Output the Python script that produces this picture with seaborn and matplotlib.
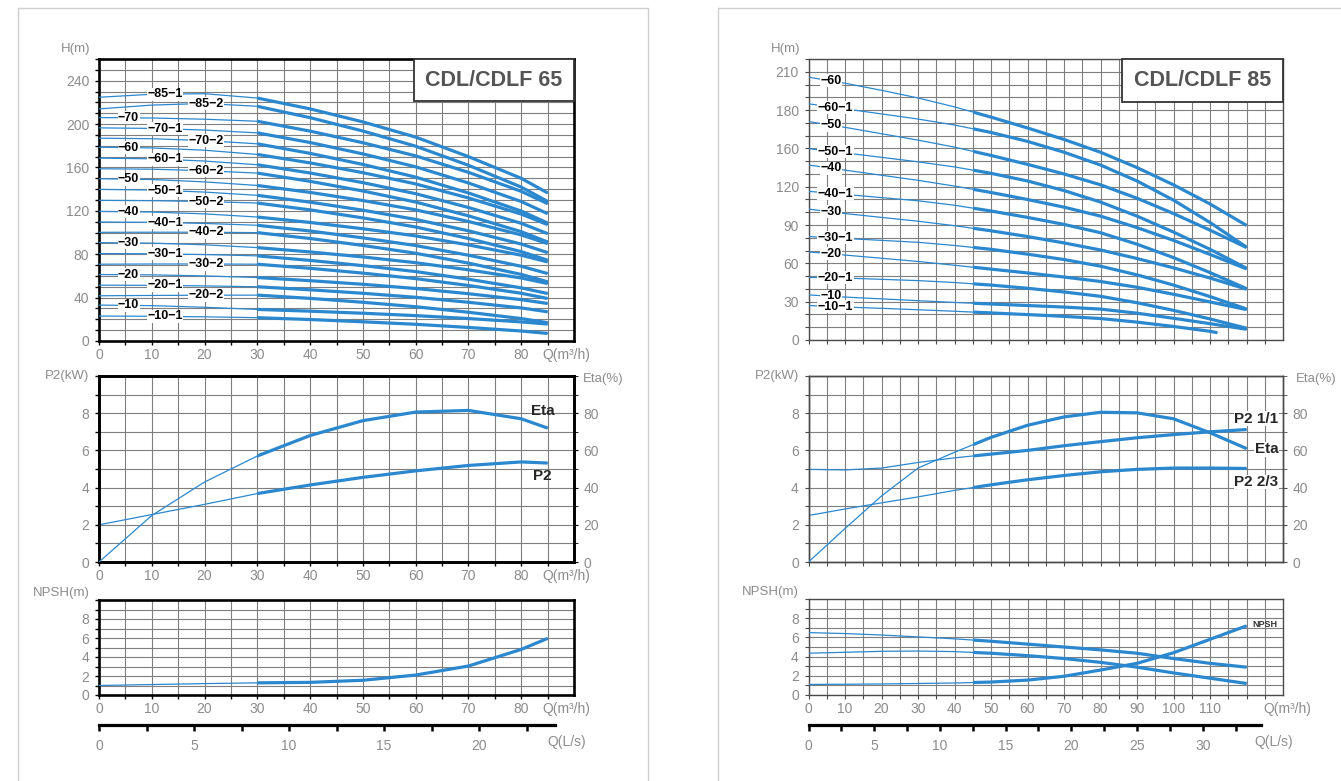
import numpy as np
import matplotlib
matplotlib.use("Agg")
import matplotlib.pyplot as plt
from matplotlib.patches import Rectangle
from matplotlib.lines import Line2D
import seaborn as sns

sns.set_style("white")
plt.rcParams["font.family"] = ["Liberation Sans", "DejaVu Sans"]

# ---------------- CDL/CDLF 65 : Q-H curves ----------------
Q65 = [0, 10, 20, 30, 40, 50, 60, 70, 80, 85]
H65_85_1 = [224.7, 227.5, 228.0, 224.0, 214.0, 202.0, 188.0, 170.0, 150.0, 136.5]
H65_85_2 = [214.0, 217.5, 219.0, 216.4, 205.9, 193.6, 179.6, 162.0, 141.9, 128.7]
H65_70 = [206.0, 205.6, 204.5, 202.6, 193.5, 182.8, 170.7, 155.5, 138.0, 126.6]
H65_70_1 = [196.5, 196.0, 194.5, 191.9, 183.0, 172.5, 160.6, 145.7, 128.6, 117.4]
H65_70_2 = [187.0, 186.5, 184.8, 181.8, 173.0, 162.8, 151.1, 136.5, 119.8, 108.8]
H65_60 = [178.7, 178.0, 175.9, 172.0, 164.2, 155.2, 144.8, 131.9, 117.0, 107.3]
H65_60_1 = [168.6, 168.0, 165.9, 162.5, 154.9, 146.0, 135.8, 123.1, 108.5, 99.0]
H65_60_2 = [158.8, 158.4, 157.0, 154.8, 147.2, 138.3, 128.1, 115.4, 100.8, 91.3]
H65_50 = [149.6, 148.9, 146.7, 143.4, 137.0, 129.5, 120.9, 110.2, 97.8, 89.8]
H65_50_1 = [139.8, 139.2, 137.3, 134.3, 128.0, 120.6, 112.1, 101.6, 89.4, 81.5]
H65_50_2 = [129.7, 129.4, 128.6, 127.2, 120.9, 113.5, 105.1, 94.5, 82.4, 74.5]
H65_40 = [119.5, 118.9, 117.2, 114.3, 109.3, 103.5, 96.9, 88.6, 79.1, 72.9]
H65_40_1 = [109.7, 109.4, 108.4, 106.7, 101.4, 95.1, 88.0, 79.1, 68.9, 62.2]
H65_40_2 = [100.2, 100.3, 100.3, 99.9, 94.5, 88.1, 80.9, 71.8, 61.4, 54.6]
H65_30 = [90.7, 90.2, 88.7, 86.1, 82.1, 77.5, 72.2, 65.6, 58.1, 53.0]
H65_30_1 = [80.6, 80.4, 79.7, 78.5, 74.3, 69.5, 64.0, 57.0, 49.0, 43.8]
H65_30_2 = [70.8, 71.0, 71.0, 70.8, 67.0, 62.6, 57.5, 51.2, 44.0, 39.2]
H65_20 = [61.3, 61.0, 60.0, 58.5, 55.6, 52.3, 48.4, 43.6, 38.1, 34.6]
H65_20_1 = [51.5, 51.3, 50.8, 50.0, 47.2, 44.0, 40.3, 35.7, 30.5, 26.9]
H65_20_2 = [41.7, 42.0, 42.2, 42.3, 39.3, 35.7, 31.6, 26.5, 20.7, 16.9]
H65_10 = [33.1, 32.6, 31.1, 29.1, 27.5, 25.6, 23.4, 20.7, 17.6, 15.6]
H65_10_1 = [23.0, 22.8, 22.3, 21.5, 19.8, 17.7, 15.4, 12.5, 9.2, 7.0]
NAMES65 = ["85-1", "85-2", "70", "70-1", "70-2", "60", "60-1", "60-2", "50", "50-1",
           "50-2", "40", "40-1", "40-2", "30", "30-1", "30-2", "20", "20-1", "20-2",
           "10", "10-1"]
# ---------------- CDL/CDLF 65 : P2 / Eta / NPSH ----------------
P2_65 = [2.0, 2.55, 3.1, 3.68, 4.14, 4.55, 4.9, 5.19, 5.38, 5.32]
ETA_65 = [0, 25, 43, 57, 68, 76, 80.6, 81.5, 77, 72]
NPSH_65 = [1.0, 1.1, 1.2, 1.28, 1.33, 1.55, 2.1, 3.05, 4.8, 5.96]

# ---------------- CDL/CDLF 85 : Q-H curves ----------------
Q85 = [0, 10, 20, 30, 40, 50, 60, 70, 80, 90, 100, 110, 120]
Q85_SHORT = [0, 10, 20, 30, 40, 50, 60, 70, 80, 90, 100, 110, 112]
H85_60 = [205.8, 201.0, 195.5, 189.5, 182.5, 174.5, 166.0, 157.0, 147.0, 135.0, 121.5, 106.5, 89.7]
H85_60_1 = [184.9, 181.0, 177.0, 173.0, 168.3, 162.5, 155.5, 147.0, 137.0, 124.5, 109.5, 92.0, 72.7]
H85_50 = [171.0, 166.5, 161.5, 156.5, 151.0, 144.5, 137.5, 130.0, 121.5, 111.0, 99.0, 86.0, 72.4]
H85_50_1 = [149.8, 146.5, 143.0, 139.5, 135.5, 130.5, 124.5, 117.0, 108.0, 97.0, 84.5, 71.0, 56.2]
H85_40 = [137.0, 133.0, 129.0, 125.0, 120.5, 115.5, 110.0, 104.0, 97.0, 88.0, 78.0, 67.0, 55.7]
H85_40_1 = [116.4, 114.0, 111.5, 109.0, 105.5, 101.0, 96.0, 90.5, 84.0, 75.0, 64.5, 52.8, 40.2]
H85_30 = [102.5, 99.0, 96.0, 93.0, 89.5, 85.5, 81.0, 76.0, 70.5, 63.8, 56.5, 48.5, 39.8]
H85_30_1 = [81.0, 79.5, 78.0, 76.5, 74.0, 71.0, 67.2, 63.0, 57.8, 51.0, 43.0, 34.0, 24.3]
H85_20 = [69.0, 66.5, 64.0, 61.5, 58.5, 55.5, 52.5, 49.3, 45.8, 41.3, 35.8, 29.8, 23.8]
H85_20_1 = [49.0, 48.5, 47.5, 46.5, 45.0, 43.0, 40.5, 37.6, 34.2, 29.2, 23.2, 16.5, 9.2]
H85_10 = [35.3, 33.6, 32.2, 30.8, 29.4, 28.2, 27.0, 25.8, 24.2, 21.0, 17.0, 12.8, 8.4]
H85_10_1 = [27.0, 25.8, 24.8, 23.7, 22.5, 21.2, 19.9, 18.5, 16.8, 14.0, 10.6, 6.8, 5.7]
NAMES85 = ["60", "60-1", "50", "50-1", "40", "40-1", "30", "30-1", "20", "20-1", "10", "10-1"]
# ---------------- CDL/CDLF 85 : P2 / Eta / NPSH ----------------
P2_85_FULL = [4.98, 4.95, 5.05, 5.35, 5.6, 5.8, 6.0, 6.25, 6.47, 6.68, 6.85, 7.0, 7.12]
P2_85_TWO3 = [2.5, 2.85, 3.18, 3.5, 3.85, 4.15, 4.42, 4.65, 4.85, 4.98, 5.05, 5.05, 5.03]
ETA_85 = [0, 18, 35.5, 50.5, 59.0, 67.0, 73.5, 78, 80.5, 80.2, 77, 69.5, 61]
NPSH_85_A = [6.5, 6.4, 6.25, 6.05, 5.85, 5.6, 5.3, 5.0, 4.7, 4.35, 3.8, 3.3, 2.9]
NPSH_85_B = [4.35, 4.45, 4.55, 4.58, 4.52, 4.35, 4.1, 3.8, 3.4, 2.9, 2.3, 1.75, 1.2]
NPSH_85_C = [1.1, 1.12, 1.15, 1.2, 1.25, 1.35, 1.55, 1.95, 2.6, 3.3, 4.4, 5.8, 7.2]

TICKS_H85 = ["0", "30", "60", "90", "120", "160", "180", "210"]

BLUE = "#2b88cf"
GRID = "#7f7f7f"
TXT = "#8c8c8c"
W, H = 1341, 781
fig = plt.figure(figsize=(W / 100, H / 100), dpi=100)


def rect(l, t, r, b):
    return [l / W, 1 - b / H, (r - l) / W, (b - t) / H]


def frame(ax, xlim, ylim, xmaj, xmin, xlab, ymaj, ymin, ylab, heavy):
    ax.set_xlim(xlim)
    ax.set_ylim(ylim)
    ax.set_xticks(xmaj)
    ax.set_xticks(xmin, minor=True)
    ax.set_xticklabels(xlab)
    ax.set_yticks(ymaj)
    ax.set_yticks(ymin, minor=True)
    ax.set_yticklabels(ylab)
    ax.set_xlabel("")
    ax.set_ylabel("")
    ax.set_axisbelow(True)
    ax.grid(True, which="both", color=GRID, linewidth=0.8)
    sc = "black" if heavy else "#4a4a4a"
    for s in ax.spines.values():
        s.set_visible(True)
        s.set_color(sc)
        s.set_linewidth(1.9 if heavy else 1.0)
    ax.tick_params(which="both", direction="out", length=3, width=1.0 if heavy else 0.8,
                   color=sc, labelcolor=TXT, labelsize=10)
    ax.tick_params(axis="x", which="both", pad=2, bottom=True, top=False)
    ax.tick_params(axis="y", which="both", pad=4, left=True, right=False)


def curve(ax, q, h, split, thin=0.9, thick=2.3):
    sns.lineplot(x=q, y=h, ax=ax, color=BLUE, linewidth=thin, estimator=None,
                 sort=False, legend=False, zorder=3)
    sns.lineplot(x=q, y=h, ax=ax, color=BLUE, linewidth=thick, estimator=None,
                 sort=False, legend=False, zorder=3)
    ln = ax.lines[-1]
    ln.set_solid_capstyle("butt")
    ln.set_clip_path(Rectangle((split, -1000), 10000, 20000, transform=ax.transData))


def corner_label(ax, text, where, dx=0):
    kw = dict(fontsize=9.5, color=TXT, textcoords="offset points")
    if where == "tl":
        ax.annotate(text, xy=(0, 1), xycoords="axes fraction", xytext=(-6, 3),
                    ha="right", va="bottom", **kw)
    elif where == "ml":
        ax.annotate(text, xy=(0, 1), xycoords="axes fraction", xytext=(-7, 0),
                    ha="right", va="center", **kw)
    elif where == "mr":
        ax.annotate(text, xy=(1, 1), xycoords="axes fraction", xytext=(dx, -2),
                    ha="left", va="center", **kw)


def q_label(ax, x):
    ax.annotate("Q(m³/h)", xy=(x, 0), xycoords=("data", "axes fraction"),
                xytext=(0, -5), textcoords="offset points", ha="center", va="top",
                fontsize=10, color=TXT)


def title_box(ax, x0, y0, text):
    ax.add_patch(Rectangle((x0, y0), 1 - x0, 1 - y0, transform=ax.transAxes,
                           facecolor="white", edgecolor="#333333", linewidth=1.3,
                           zorder=6, clip_on=False))
    ax.text((x0 + 1) / 2, (y0 + 1) / 2, text, transform=ax.transAxes, ha="center",
            va="center", fontsize=15.5, fontweight="bold", color="#555555", zorder=7)


def curve_label(ax, q, h, name, x_left, x_center):
    y = float(np.interp(x_center, q, h))
    ax.text(x_left, y, "−" + name.replace("-", "−"), ha="left", va="center",
            fontsize=9, fontweight="bold", color="black", zorder=5,
            bbox=dict(facecolor="white", edgecolor="none", pad=0.4))


def ls_axis(l, r, ypx, xmax, end, major, minor, lab_x):
    a = fig.add_axes(rect(l, ypx - 1, r, ypx))
    a.set_xlim(0, xmax)
    a.set_ylim(0, 1)
    a.patch.set_visible(False)
    for k in ("left", "right", "top"):
        a.spines[k].set_visible(False)
    sp = a.spines["bottom"]
    sp.set_color("black")
    sp.set_linewidth(2.3)
    sp.set_bounds(0, end)
    a.set_yticks([])
    a.set_xticks(major)
    a.set_xticks(minor, minor=True)
    a.set_xticklabels([f"{v:g}" for v in major])
    a.tick_params(axis="x", which="both", direction="out", length=4, width=1.8,
                  color="black", labelcolor=TXT, labelsize=10, pad=6,
                  bottom=True, top=False, labelbottom=True)
    a.annotate("Q(L/s)", xy=(lab_x, 0), xycoords=("data", "axes fraction"),
               xytext=(0, -7), textcoords="offset points", ha="center", va="top",
               fontsize=10, color=TXT)


# ================= LEFT PANEL : CDL/CDLF 65 =================
xmaj65 = list(range(0, 81, 10))
xmin65 = [5 * i for i in range(1, 18) if (5 * i) % 10 != 0]
xlab65 = [str(v) for v in xmaj65]

axL1 = fig.add_axes(rect(99, 59, 574, 341))
all65 = [H65_85_1, H65_85_2, H65_70, H65_70_1, H65_70_2, H65_60, H65_60_1, H65_60_2,
         H65_50, H65_50_1, H65_50_2, H65_40, H65_40_1, H65_40_2, H65_30, H65_30_1,
         H65_30_2, H65_20, H65_20_1, H65_20_2, H65_10, H65_10_1]
for h in all65:
    curve(axL1, Q65, h, 30)
frame(axL1, (0, 90), (0, 260), xmaj65, xmin65, xlab65,
      list(range(0, 241, 40)), list(range(0, 261, 10)),
      [str(v) for v in range(0, 241, 40)], True)
cols = {"A": (3.6, 5.7), "B": (9.1, 12.4), "C": (16.9, 20.4)}
for name, h in zip(NAMES65, all65):
    if name.endswith("-1"):
        c = "B"
    elif name.endswith("-2"):
        c = "C"
    else:
        c = "A"
    curve_label(axL1, Q65, h, name, *cols[c])
corner_label(axL1, "H(m)", "tl")
q_label(axL1, 88.6)
title_box(axL1, 0.663, 0.851, "CDL/CDLF 65")

axL2 = fig.add_axes(rect(99, 376, 574, 562))
curve(axL2, Q65, P2_65, 30)
frame(axL2, (0, 90), (0, 10), xmaj65, xmin65, xlab65,
      [0, 2, 4, 6, 8], list(range(0, 11)), ["0", "2", "4", "6", "8"], True)
axL2e = axL2.twinx()
curve(axL2e, Q65, ETA_65, 30)
axL2e.set_ylim(0, 100)
axL2e.set_yticks([0, 20, 40, 60, 80])
axL2e.set_yticks(list(range(0, 101, 10)), minor=True)
axL2e.set_ylabel("")
axL2e.grid(False)
for s in axL2e.spines.values():
    s.set_color("black")
    s.set_linewidth(1.9)
axL2e.tick_params(which="both", direction="out", length=3, color="black",
                  labelcolor=TXT, labelsize=10, pad=4, right=True, left=False)
axL2e.text(86.4, 81.2, "Eta", ha="right", va="center", fontsize=11, fontweight="bold",
           zorder=6)
axL2e.text(85.8, 46.5, "P2", ha="right", va="center", fontsize=11, fontweight="bold",
           zorder=6)
corner_label(axL2, "P2(kW)", "ml")
corner_label(axL2e, "Eta(%)", "mr", dx=6.5)
q_label(axL2, 88.6)

axL3 = fig.add_axes(rect(99, 600, 574, 695))
curve(axL3, Q65, NPSH_65, 30)
frame(axL3, (0, 90), (0, 10), xmaj65, xmin65, xlab65,
      [0, 2, 4, 6, 8], list(range(0, 11)), ["0", "2", "4", "6", "8"], True)
axL3.annotate("NPSH(m)", xy=(0, 1), xycoords="axes fraction", xytext=(-7, 5),
              textcoords="offset points", ha="right", va="center", fontsize=9.5, color=TXT)
q_label(axL3, 88.6)
ls_axis(99, 574, 725, 90 / 3.6, 24.0, [0, 5, 10, 15, 20], [2.5, 7.5, 12.5, 17.5, 22.5], 24.6)

# ================= RIGHT PANEL : CDL/CDLF 85 =================
xmaj85 = list(range(0, 111, 10))
xmin85 = [5 * i for i in range(1, 26) if (5 * i) not in xmaj85]
xlab85 = [str(v) for v in xmaj85]

axR1 = fig.add_axes(rect(808.5, 59, 1283, 340))
all85 = [H85_60, H85_60_1, H85_50, H85_50_1, H85_40, H85_40_1, H85_30, H85_30_1,
         H85_20, H85_20_1, H85_10, H85_10_1]
for name, h in zip(NAMES85, all85):
    q = Q85_SHORT if name == "10-1" else Q85
    curve(axR1, q, h, 45)
frame(axR1, (0, 130), (0, 220), xmaj85, xmin85, [""] * len(xmaj85),
      list(range(0, 211, 30)), list(range(0, 221, 10)), TICKS_H85, False)
for name, h in zip(NAMES85, all85):
    q = Q85_SHORT if name == "10-1" else Q85
    if name.endswith("-1"):
        curve_label(axR1, q, h, name, 2.6, 7.4)
    else:
        curve_label(axR1, q, h, name, 3.3, 6.3)
corner_label(axR1, "H(m)", "tl")
title_box(axR1, 0.661, 0.846, "CDL/CDLF 85")

axR2 = fig.add_axes(rect(808.5, 376, 1283, 562))
curve(axR2, Q85, P2_85_FULL, 45)
curve(axR2, Q85, P2_85_TWO3, 45)
frame(axR2, (0, 130), (0, 10), xmaj85, xmin85, [""] * len(xmaj85),
      [0, 2, 4, 6, 8], list(range(0, 11)), ["0", "2", "4", "6", "8"], False)
axR2e = axR2.twinx()
curve(axR2e, Q85, ETA_85, 45)
axR2e.set_ylim(0, 100)
axR2e.set_yticks([0, 20, 40, 60, 80])
axR2e.set_yticks(list(range(0, 101, 10)), minor=True)
axR2e.set_ylabel("")
axR2e.grid(False)
for s in axR2e.spines.values():
    s.set_color("#4a4a4a")
    s.set_linewidth(1.0)
axR2e.tick_params(which="both", direction="out", length=3, color="#4a4a4a",
                  labelcolor=TXT, labelsize=10, pad=4, right=True, left=False)
for txt, yv in (("P2 1/1", 77.0), ("Eta", 60.5), ("P2 2/3", 43.0)):
    axR2e.text(128.7, yv, txt, ha="right", va="center", fontsize=11, fontweight="bold",
               zorder=6, bbox=dict(facecolor="white", edgecolor="none", pad=0.3))
corner_label(axR2, "P2(kW)", "ml")
corner_label(axR2e, "Eta(%)", "mr", dx=9.5)

axR3 = fig.add_axes(rect(808.5, 599, 1283, 695))
curve(axR3, Q85, NPSH_85_A, 45)
curve(axR3, Q85, NPSH_85_B, 45)
curve(axR3, Q85, NPSH_85_C, 45)
frame(axR3, (0, 130), (0, 10), xmaj85, xmin85, xlab85,
      [0, 2, 4, 6, 8], list(range(0, 11)), ["0", "2", "4", "6", "8"], False)
axR3.text(121.5, 7.3, "NPSH", ha="left", va="center", fontsize=6.5, fontweight="bold",
          color="#333333", zorder=6)
axR3.annotate("NPSH(m)", xy=(0, 1), xycoords="axes fraction", xytext=(-7, 5),
              textcoords="offset points", ha="right", va="center", fontsize=9.5, color=TXT)
q_label(axR3, 131.2)
ls_axis(808.5, 1283, 725, 130 / 3.6, 34.4, [0, 5, 10, 15, 20, 25, 30],
        [2.5, 7.5, 12.5, 17.5, 22.5, 27.5, 32.5], 35.4)

# ---------------- outer panel frames ----------------
PANEL = "#cfcfcf"
for (x0, y0, x1, y1) in [(18, 8, 648, 8), (18, 8, 18, 781), (648, 8, 648, 781),
                         (718, 8, 1341, 8), (718, 8, 718, 781)]:
    fig.add_artist(Line2D([x0 / W, x1 / W], [1 - y0 / H, 1 - y1 / H],
                          transform=fig.transFigure, color=PANEL, linewidth=1.0))

fig.savefig("out.png", dpi=100, facecolor="white")
